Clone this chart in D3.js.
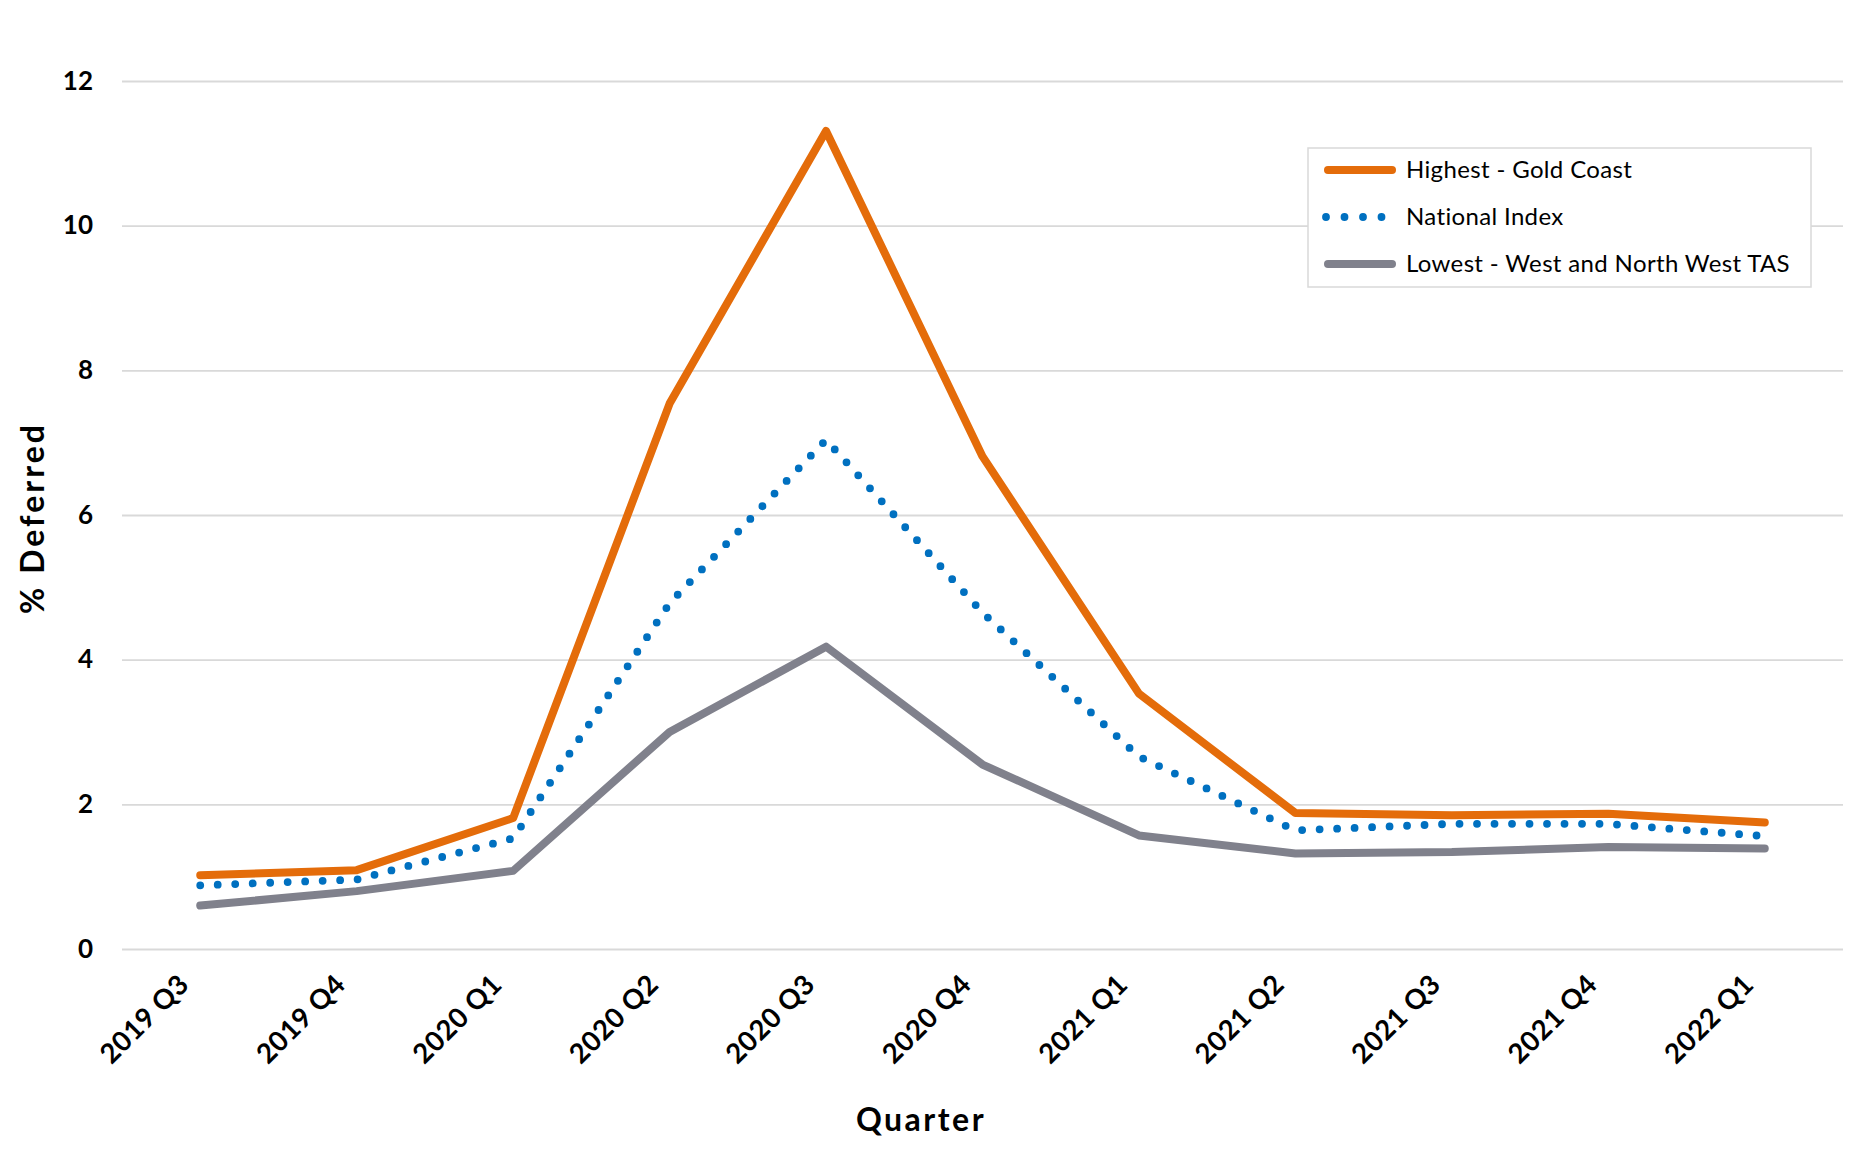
<!DOCTYPE html>
<html>
<head>
<meta charset="utf-8">
<script src="https://cdn.jsdelivr.net/npm/d3@7"></script>
<style>
  html, body { margin: 0; padding: 0; background: #fff; }
  text { font-family: Lato, "Open Sans", sans-serif; }
</style>
</head>
<body>
<svg id="chart" width="1853" height="1168"></svg>
<script>
const categories = ["2019 Q3","2019 Q4","2020 Q1","2020 Q2","2020 Q3","2020 Q4","2021 Q1","2021 Q2","2021 Q3","2021 Q4","2022 Q1"];
const highestGoldCoast = [1.02, 1.09, 1.81, 7.54, 11.31, 6.81, 3.53, 1.88, 1.85, 1.87, 1.75];
const nationalIndex    = [0.88, 0.96, 1.53, 4.78, 7.04, 4.65, 2.66, 1.64, 1.73, 1.73, 1.56];
const lowestWestNWTAS  = [0.60, 0.80, 1.08, 3.00, 4.18, 2.55, 1.57, 1.32, 1.34, 1.41, 1.39];
const yTicks = [0, 2, 4, 6, 8, 10, 12];
const seriesNames = ["Highest - Gold Coast", "National Index", "Lowest - West and North West TAS"];

const series = [
  { name: seriesNames[0], values: highestGoldCoast, color: "#e46c0a", dash: null },
  { name: seriesNames[1], values: nationalIndex, color: "#0070c0", dash: "0,17.5" },
  { name: seriesNames[2], values: lowestWestNWTAS, color: "#80818c", dash: null }
];

const svg = d3.select("#chart");
const plotLeft = 122, plotRight = 1843, plotTop = 81, plotBottom = 949;

const x = d3.scalePoint().domain(categories).range([plotLeft, plotRight]).padding(0.5);
const y = d3.scaleLinear().domain([0, 12]).range([plotBottom, plotTop]);

// Y axis with gridlines
const yAxis = d3.axisLeft(y).tickValues(yTicks).tickSize(-(plotRight - plotLeft)).tickPadding(29).tickFormat(d3.format("d"));
const gy = svg.append("g").attr("transform", `translate(${plotLeft},0)`).call(yAxis);
gy.select(".domain").remove();
gy.selectAll(".tick line").attr("stroke", "#d9d9d9").attr("stroke-width", 1.8);
gy.selectAll(".tick text").attr("font-size", 26).attr("font-weight", 700).attr("fill", "#000")
  .attr("font-family", "Lato, sans-serif");

// X axis
const xAxis = d3.axisBottom(x).tickSize(0).tickPadding(0);
const gx = svg.append("g").attr("transform", `translate(0,${plotBottom})`).call(xAxis);
gx.select(".domain").remove();
gx.selectAll(".tick text")
  .attr("font-size", 27.5).attr("font-weight", 700).attr("fill", "#000")
  .attr("font-family", "Lato, sans-serif")
  .attr("letter-spacing", 0.5)
  .attr("text-anchor", "end")
  .attr("dy", null)
  .attr("transform", "translate(-10,37) rotate(-45)");

// Lines
const line = d3.line().x((d, i) => x(categories[i])).y(d => y(d));
series.forEach(s => {
  svg.append("path")
    .datum(s.values)
    .attr("d", line)
    .attr("fill", "none")
    .attr("stroke", s.color)
    .attr("stroke-width", s.dash ? 7.8 : 8)
    .attr("stroke-linejoin", "round")
    .attr("stroke-linecap", "round")
    .attr("stroke-dasharray", s.dash);
});

// Axis titles
svg.append("text")
  .attr("x", 921).attr("y", 1131)
  .attr("text-anchor", "middle")
  .attr("font-size", 32).attr("font-weight", 700).attr("fill", "#000")
  .attr("letter-spacing", 2.5)
  .text("Quarter");
svg.append("text")
  .attr("transform", "translate(44,518) rotate(-90)")
  .attr("text-anchor", "middle")
  .attr("font-size", 32).attr("font-weight", 700).attr("fill", "#000")
  .attr("letter-spacing", 3)
  .text("% Deferred");

// Legend
const lg = svg.append("g");
lg.append("rect").attr("x", 1308).attr("y", 148).attr("width", 503).attr("height", 139)
  .attr("fill", "#fff").attr("stroke", "#d9d9d9").attr("stroke-width", 1.5);
const rowY = [170, 217, 264];
series.forEach((s, i) => {
  lg.append("line")
    .attr("x1", s.dash ? 1326 : 1328).attr("x2", s.dash ? 1384 : 1392)
    .attr("y1", rowY[i]).attr("y2", rowY[i])
    .attr("stroke", s.color).attr("stroke-width", s.dash ? 7.8 : 8)
    .attr("stroke-linecap", "round")
    .attr("stroke-dasharray", s.dash ? "0,18.5" : null);
  lg.append("text")
    .attr("x", 1406).attr("y", rowY[i]).attr("dy", "0.35em")
    .attr("font-size", 24).attr("fill", "#000")
    .attr("letter-spacing", 0.35)
    .text(s.name);
});
</script>
</body>
</html>
